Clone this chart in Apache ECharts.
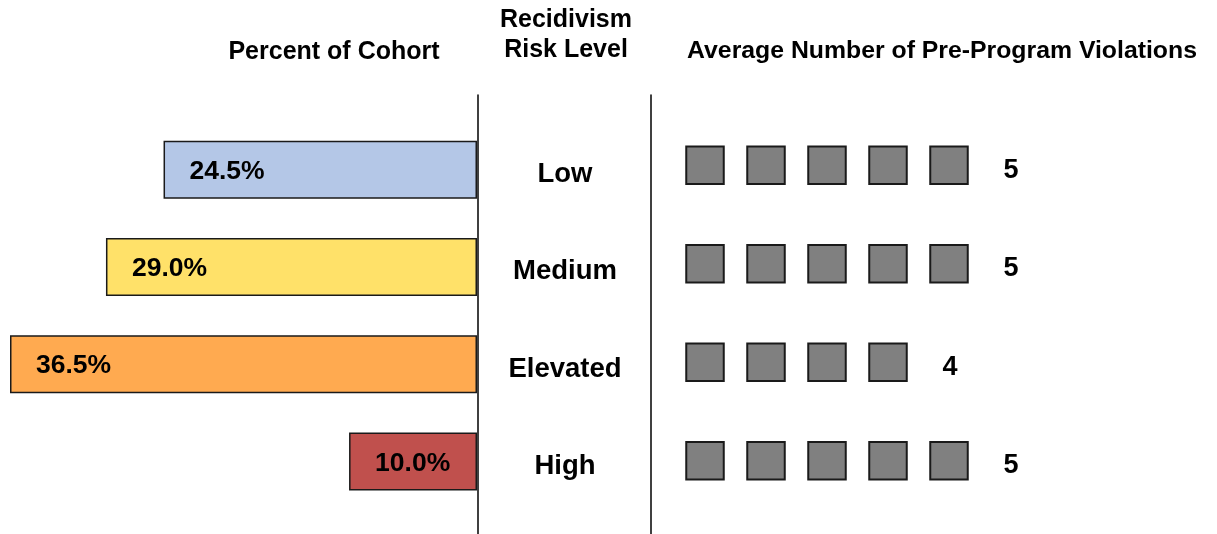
<!DOCTYPE html>
<html>
<head>
<meta charset="utf-8">
<title>Recidivism Risk Level</title>
<script src="https://cdn.jsdelivr.net/npm/echarts@6/dist/echarts.min.js"></script>
<style>
  html, body { margin: 0; padding: 0; background: #fff; }
  #chart { width: 1217px; height: 534px; }
</style>
</head>
<body>
<div id="chart"></div>
<script>
// Risk levels, share of the cohort, and average pre-program violations
const categories = ['Low', 'Medium', 'Elevated', 'High'];
const cohortPct = [24.5, 29.0, 36.5, 10.0];
const avgViolations = [5, 5, 4, 5];

const barColors = ['#B4C7E7', '#FFE169', '#FFAA50', '#C0504D'];
const FONT = "'Liberation Sans', Arial, Helvetica, sans-serif";

// One square per violation, placed at 1..n along the row of its risk level
const squares = [];
categories.forEach((c, i) => {
  for (let k = 1; k <= avgViolations[i]; k++) squares.push([k, c]);
});
// Count label sits one slot after the last square
const countLabels = categories.map((c, i) => [avgViolations[i] + 1, c, avgViolations[i]]);

const chart = echarts.init(document.getElementById('chart'), null, { renderer: 'canvas' });

chart.setOption({
  animation: false,
  backgroundColor: '#fff',
  textStyle: { fontFamily: FONT },
  graphic: [
    { type: 'text', x: 334, y: 52, style: { text: 'Percent of Cohort', align: 'center', verticalAlign: 'middle', font: 'bold 25px ' + FONT, fill: '#000' } },
    { type: 'text', x: 566, y: 35, style: { text: 'Recidivism\nRisk Level', align: 'center', verticalAlign: 'middle', lineHeight: 30, font: 'bold 25px ' + FONT, fill: '#000' } },
    { type: 'text', x: 942, y: 51, style: { text: 'Average Number of Pre-Program Violations', align: 'center', verticalAlign: 'middle', font: 'bold 24.8px ' + FONT, fill: '#000' } }
  ],
  grid: [
    { left: 10, right: 740, top: 121, height: 389 },   // cohort bars
    { left: 644, right: 24, top: 116, height: 394 },   // violation squares
    { left: 478, right: 566, top: 95, bottom: 0 }      // divider lines
  ],
  xAxis: [
    { gridIndex: 0, type: 'value', inverse: true, min: 0, max: 'dataMax', show: false },
    { gridIndex: 1, type: 'value', min: 0, max: 9, show: false },
    { gridIndex: 2, type: 'value', min: 0, max: 1, show: false }
  ],
  yAxis: [
    {
      gridIndex: 0, type: 'category', data: categories, inverse: true, position: 'right',
      axisLine: { show: false }, axisTick: { show: false }, splitLine: { show: false },
      axisLabel: {
        margin: 88, align: 'center', verticalAlign: 'top', lineHeight: 10,
        color: '#000', fontSize: 27.5, fontWeight: 'bold', fontFamily: FONT
      }
    },
    {
      gridIndex: 1, type: 'category', data: categories, inverse: true, show: false
    },
    {
      gridIndex: 2, type: 'value', min: 0, max: 1, position: 'left',
      axisLine: { show: true, lineStyle: { color: '#000', width: 1.5 } },
      axisTick: { show: false }, axisLabel: { show: false }, splitLine: { show: false }
    },
    {
      gridIndex: 2, type: 'value', min: 0, max: 1, position: 'right',
      axisLine: { show: true, lineStyle: { color: '#000', width: 1.5 } },
      axisTick: { show: false }, axisLabel: { show: false }, splitLine: { show: false }
    }
  ],
  series: [
    {
      type: 'bar', xAxisIndex: 0, yAxisIndex: 0, barWidth: 58,
      data: cohortPct.map((v, i) => ({ value: v, itemStyle: { color: barColors[i] } })),
      itemStyle: { borderColor: '#1a1a1a', borderWidth: 1.5 },
      label: {
        show: true, position: 'insideLeft', distance: 26, offset: [0, 2],
        formatter: p => p.value.toFixed(1) + '%',
        color: '#000', fontSize: 26.5, fontWeight: 'bold', fontFamily: FONT
      }
    },
    {
      type: 'scatter', xAxisIndex: 1, yAxisIndex: 1,
      symbol: 'rect', symbolSize: 37.5,
      itemStyle: { color: '#808080', borderColor: '#1a1a1a', borderWidth: 2, opacity: 1 },
      data: squares
    },
    {
      type: 'scatter', xAxisIndex: 1, yAxisIndex: 1, symbolSize: 1,
      itemStyle: { color: 'rgba(0,0,0,0)', opacity: 1 },
      label: {
        show: true, position: 'inside', offset: [1, 5],
        formatter: p => String(p.value[2]),
        color: '#000', fontSize: 27, fontWeight: 'bold', fontFamily: FONT
      },
      data: countLabels
    }
  ]
});
</script>
</body>
</html>
